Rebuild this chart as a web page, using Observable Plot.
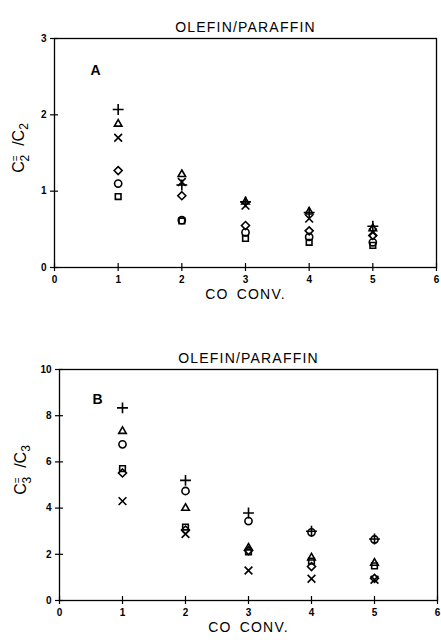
<!DOCTYPE html>
<html>
<head>
<meta charset="utf-8">
<script src="https://cdn.jsdelivr.net/npm/d3@7"></script>
<script src="https://cdn.jsdelivr.net/npm/@observablehq/plot@0.6"></script>
<style>
  html, body { margin: 0; padding: 0; background: #fff; }
  #charts svg { display: block; }
</style>
</head>
<body>
<div id="charts"></div>
<script>
// CO conversion levels (x positions)
const conv = [1, 2, 3, 4, 5];

// Panel A: C2 olefin/paraffin ratio, one array per catalyst symbol
const aPlus     = [2.07, 1.08, 0.86, 0.72, 0.54];
const aTriangle = [1.88, 1.22, 0.86, 0.73, 0.51];
const aTimes    = [1.70, 1.12, 0.81, 0.64, 0.46];
const aDiamond  = [1.27, 0.94, 0.55, 0.48, 0.42];
const aCircle   = [1.10, 0.62, 0.46, 0.40, 0.33];
const aSquare   = [0.93, 0.61, 0.38, 0.33, 0.29];

// Panel B: C3 olefin/paraffin ratio
const bPlus     = [8.34, 5.20, 3.79, 3.00, 2.66];
const bTriangle = [7.33, 4.00, 2.28, 1.85, 1.62];
const bCircle   = [6.76, 4.74, 3.44, 2.95, 2.64];
const bSquare   = [5.71, 3.18, 2.10, 1.70, 1.50];
const bDiamond  = [5.52, 3.05, 2.16, 1.47, 0.96];
const bTimes    = [4.30, 2.88, 1.30, 0.94, 0.90];

const xTicks = [0, 1, 2, 3, 4, 5, 6];
const aTicks = [0, 1, 2, 3];
const bTicks = [0, 2, 4, 6, 8, 10];

const titleText = "OLEFIN/PARAFFIN";
const xLabel = "CO CONV.";

function rows(seriesList) {
  const out = [];
  for (const [symbol, values] of seriesList) {
    values.forEach((v, i) => out.push({conv: conv[i], ratio: v, symbol}));
  }
  return out;
}

const dataA = rows([
  ["plus", aPlus], ["triangle2", aTriangle], ["times", aTimes],
  ["diamond2", aDiamond], ["circle", aCircle], ["square2", aSquare]
]);
const dataB = rows([
  ["plus", bPlus], ["triangle2", bTriangle], ["circle", bCircle],
  ["square2", bSquare], ["diamond2", bDiamond], ["times", bTimes]
]);

const font = "'Liberation Sans', Arial, sans-serif";

function panel({data, yDomain, yTicks, letter, height, margins, letterPos}) {
  const svg = Plot.plot({
    width: 441,
    height,
    ...margins,
    style: {fontFamily: font, background: "#fff", color: "#000", overflow: "visible"},
    x: {domain: [0, 6], ticks: xTicks},
    y: {domain: yDomain, ticks: yTicks},
    symbol: {type: "identity"},
    marks: [
      Plot.frame({stroke: "#000", strokeWidth: 1.3}),
      // ticks that cross the axis lines
      Plot.axisX({ticks: xTicks, tickSize: 8, dy: -4, text: null, strokeWidth: 1.2, label: null}),
      Plot.axisY({ticks: yTicks, tickSize: 8, dx: 4, text: null, strokeWidth: 1.2, label: null}),
      Plot.axisX({ticks: xTicks, tickFormat: "d", tickSize: 0, tickPadding: 8, fontSize: 10, fontWeight: "bold", label: null}),
      Plot.axisY({ticks: yTicks, tickFormat: "d", tickSize: 0, tickPadding: 8, fontSize: 10, fontWeight: "bold", label: null}),
      Plot.dot(data, {x: "conv", y: "ratio", symbol: "symbol", r: 3.6, stroke: "#000", strokeWidth: 1.6}),
      Plot.text([titleText], {frameAnchor: "top", dy: -16, fontSize: 14}),
      Plot.text([xLabel], {frameAnchor: "bottom", dy: 31, fontSize: 14}),
      Plot.text([letter], {frameAnchor: "top-left", dx: letterPos[0], dy: letterPos[1], fontSize: 14, fontWeight: "bold"})
    ]
  });
  // wider letter spacing for the title and axis caption
  d3.select(svg).selectAll("text")
    .filter(function () { return this.textContent === titleText || this.textContent === xLabel; })
    .attr("letter-spacing", 1.2)
    .style("word-spacing", "3px");
  return svg;
}

// Rotated y-axis label: C(=)(n) / C(n)
function yLabel(svg, n, cx, cy) {
  const t = d3.select(svg).append("text")
    .attr("transform", `translate(${cx},${cy}) rotate(-90)`)
    .attr("text-anchor", "middle")
    .attr("font-family", font)
    .attr("font-size", 16)
    .attr("fill", "#000");
  t.append("tspan").text("C");
  t.append("tspan").attr("dy", -5).attr("font-size", 10).text("=");
  t.append("tspan").attr("dx", -6).attr("dy", 10).attr("font-size", 12).text(n);
  t.append("tspan").attr("dy", -5).text("  /C");
  t.append("tspan").attr("dy", 4).attr("font-size", 12).text(n);
}

const chartA = panel({
  data: dataA, yDomain: [0, 3], yTicks: aTicks, letter: "A", height: 320,
  margins: {marginLeft: 54, marginRight: 5, marginTop: 38, marginBottom: 53},
  letterPos: [36, 27]
});
yLabel(chartA, "2", 24, 148);

const chartB = panel({
  data: dataB, yDomain: [0, 10], yTicks: bTicks, letter: "B", height: 320,
  margins: {marginLeft: 59, marginRight: 4, marginTop: 49, marginBottom: 40},
  letterPos: [33, 25]
});
yLabel(chartB, "3", 26, 150);

const host = document.getElementById("charts");
host.appendChild(chartA);
host.appendChild(chartB);
</script>
</body>
</html>
